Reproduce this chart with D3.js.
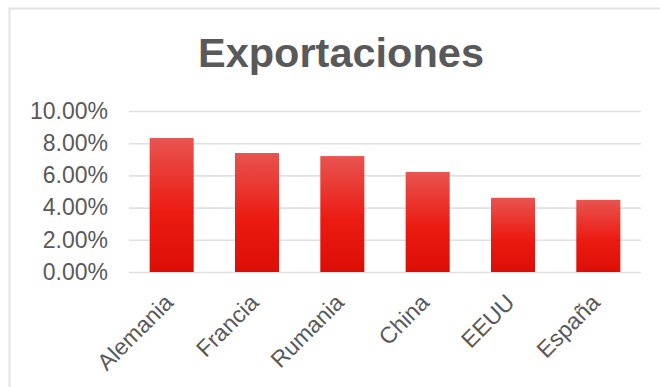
<!DOCTYPE html>
<html>
<head>
<meta charset="utf-8">
<script src="https://cdn.jsdelivr.net/npm/d3@7"></script>
<style>
  body { margin: 0; background: #fff; }
  svg { display: block; font-family: "Liberation Sans", Arial, sans-serif; }
</style>
</head>
<body>
<svg width="660" height="387"></svg>
<script>
const countries = ['Alemania', 'Francia', 'Rumania', 'China', 'EEUU', 'España']
const shares = [0.0832, 0.0739, 0.0720, 0.0621, 0.0461, 0.0448]
const yTicks = [0, 0.02, 0.04, 0.06, 0.08, 0.10]

const svg = d3.select('svg')
const width = +svg.attr('width')
const height = +svg.attr('height')
const margin = { top: 111, right: 19, bottom: 115, left: 129 }

// chart frame
svg.append('rect')
    .attr('x', 9.5).attr('y', 8.5)
    .attr('width', width).attr('height', height)
    .attr('fill', 'none')
    .attr('stroke', '#e3e3e3')
    .attr('stroke-width', 2)

svg.append('text')
    .attr('x', 341).attr('y', 67)
    .attr('text-anchor', 'middle')
    .attr('font-size', 41.5)
    .attr('font-weight', 'bold')
    .attr('fill', '#595959')
    .text('Exportaciones')

const x = d3.scaleBand()
    .domain(countries)
    .range([margin.left, width - margin.right])
    .paddingInner(0.484)
    .paddingOuter(0.242)

const y = d3.scaleLinear()
    .domain([0, 0.10])
    .range([height - margin.bottom, margin.top])

// gradient for the bars
const grad = svg.append('defs').append('linearGradient')
    .attr('id', 'barFill')
    .attr('x1', 0).attr('y1', 0).attr('x2', 0).attr('y2', 1)
grad.append('stop').attr('offset', '0%').attr('stop-color', '#e85450')
grad.append('stop').attr('offset', '55%').attr('stop-color', '#ec1b12')
grad.append('stop').attr('offset', '100%').attr('stop-color', '#db0e05')

// gridlines
const yAxis = d3.axisLeft(y)
    .tickValues(yTicks)
    .tickFormat(d3.format('.2%'))
    .tickSize(-(width - margin.left - margin.right))
    .tickPadding(21)

svg.append('g')
    .attr('transform', `translate(${margin.left},0)`)
    .call(yAxis)
    .call(g => g.select('.domain').remove())
    .call(g => g.selectAll('line').attr('stroke', '#e0e0e0').attr('stroke-width', 1.6))
    .call(g => g.selectAll('text')
        .attr('fill', '#595959')
        .attr('font-size', 23)
        .attr('font-family', '"Liberation Sans", Arial, sans-serif'))

svg.append('g')
    .selectAll('rect')
    .data(countries)
    .join('rect')
    .attr('x', d => x(d))
    .attr('width', x.bandwidth())
    .attr('y', (d, i) => y(shares[i]))
    .attr('height', (d, i) => y(0) - y(shares[i]))
    .attr('fill', 'url(#barFill)')

// x labels rotated
const xAxis = d3.axisBottom(x).tickSize(0).tickPadding(0)
svg.append('g')
    .attr('transform', `translate(0,${y(0)})`)
    .call(xAxis)
    .call(g => g.select('.domain').remove())
    .call(g => g.selectAll('text')
        .attr('fill', '#595959')
        .attr('font-size', 23)
        .attr('font-family', '"Liberation Sans", Arial, sans-serif')
        .attr('text-anchor', 'end')
        .attr('dy', 0)
        .attr('transform', 'translate(3,32) rotate(-45)'))
</script>
</body>
</html>
